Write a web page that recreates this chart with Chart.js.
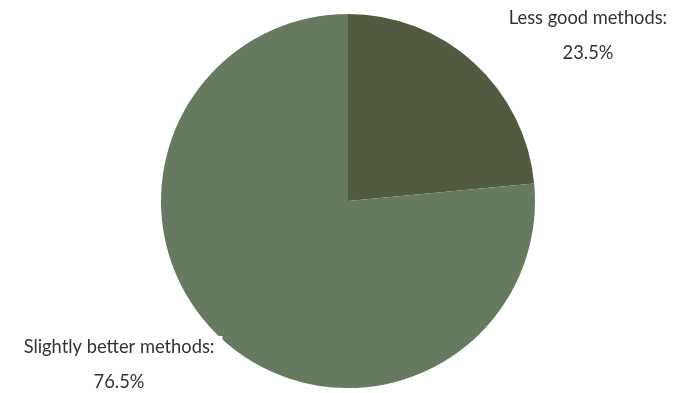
<!DOCTYPE html>
<html><head><meta charset="utf-8">
<script src="https://cdn.jsdelivr.net/npm/chart.js@4/dist/chart.umd.min.js"></script>
<style>html,body{margin:0;padding:0;background:#fff}#wrap{width:690px;height:393px}</style>
</head><body><div id="wrap"><canvas id="c"></canvas></div>
<script>
const categories = ["Less good methods:", "Slightly better methods:"];
const values = [23.5, 76.5];
const valueLabels = ["23.5%", "76.5%"];
const colors = ["#525A40", "#667A5F"];

const labelPlugin = {
  id: 'outLabels',
  afterDatasetsDraw(chart) {
    const ctx = chart.ctx;
    const meta = chart.getDatasetMeta(0);
    const arc = meta.data[0];
    const cx = arc.x, cy = arc.y;
    const pos = [[cx + 240, cy - 183], [cx - 229, cy + 146]];
    ctx.save();
    ctx.font = '18.3px Lato';
    ctx.textAlign = 'center';
    ctx.textBaseline = 'middle';
    pos.forEach((p, i) => {
      const w1 = ctx.measureText(categories[i]).width;
      ctx.fillStyle = '#fff';
      ctx.fillRect(p[0] - w1 / 2 - 8, p[1] - 11, w1 + 16, 52);
      ctx.fillStyle = '#333';
      ctx.fillText(categories[i], p[0], p[1]);
      ctx.fillText(valueLabels[i], p[0], p[1] + 35);
    });
    ctx.restore();
  }
};

new Chart(document.getElementById('c'), {
  type: 'pie',
  data: { labels: categories, datasets: [{ data: values, backgroundColor: colors, borderWidth: 0 }] },
  options: {
    responsive: true, maintainAspectRatio: false, animation: false,
    layout: { padding: { top: 14, bottom: 5, left: 6, right: 0 } },
    plugins: { legend: { display: false }, tooltip: { enabled: false } }
  },
  plugins: [labelPlugin]
});
</script></body></html>
